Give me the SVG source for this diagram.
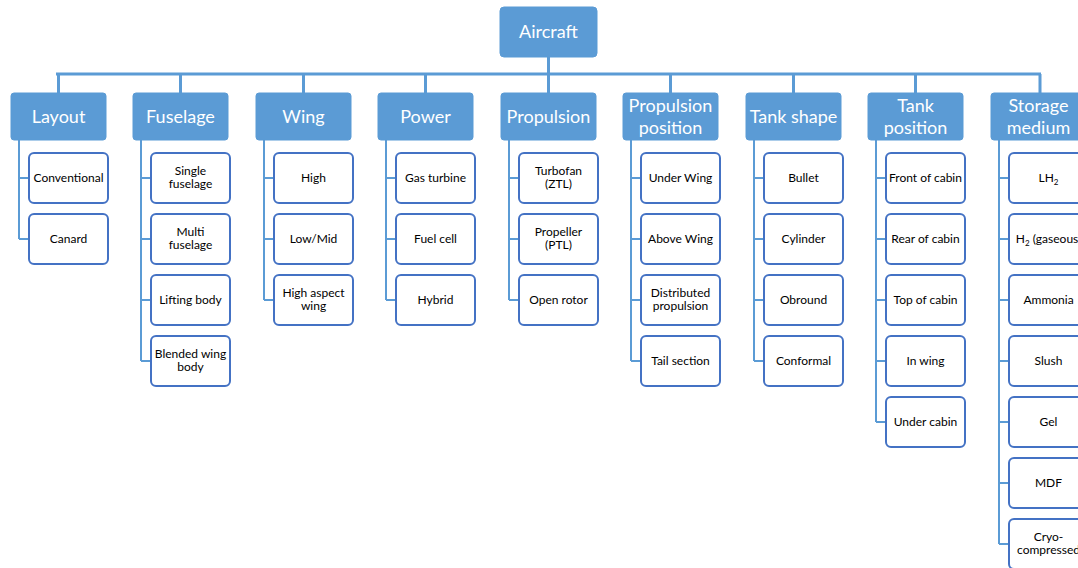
<svg xmlns="http://www.w3.org/2000/svg" width="1078" height="568" viewBox="0 0 1078 568">
<style>
.cat{fill:#5b9bd5;stroke:#5b9bd5;stroke-width:1}
.ct{fill:#fff;font-family:Lato,"Open Sans",sans-serif;font-size:18px;text-anchor:middle}
.ch{fill:#fff;stroke:#4472c4;stroke-width:2}
.t{fill:#000;font-family:Lato,"Open Sans",sans-serif;font-size:12px;text-anchor:middle}
.c{stroke:#5b9bd5;stroke-width:2;fill:none}
.bus{stroke:#5b9bd5;stroke-width:3;fill:none}
</style>
<rect width="1078" height="568" fill="#fff"/>
<g id="connectors">
<path class="bus" d="M548.5 57V74M56 74H1041M58.5 74V93M180.5 74V93M303.5 74V93M425.5 74V93M548.5 74V93M670.5 74V93M793.5 74V93M915.5 74V93M1040 74V93"/>
<path class="c" d="M19 140V239M19 178H29M19 239H29"/>
<path class="c" d="M141 140V361M141 178H151M141 239H151M141 300H151M141 361H151"/>
<path class="c" d="M264 140V300M264 178H274M264 239H274M264 300H274"/>
<path class="c" d="M386 140V300M386 178H396M386 239H396M386 300H396"/>
<path class="c" d="M509 140V300M509 178H519M509 239H519M509 300H519"/>
<path class="c" d="M631 140V361M631 178H641M631 239H641M631 300H641M631 361H641"/>
<path class="c" d="M754 140V361M754 178H764M754 239H764M754 300H764M754 361H764"/>
<path class="c" d="M876 140V422M876 178H886M876 239H886M876 300H886M876 361H886M876 422H886"/>
<path class="c" d="M999 140V544M999 178H1009M999 239H1009M999 300H1009M999 361H1009M999 422H1009M999 483H1009M999 544H1009"/>
</g>
<g id="aircraft"><rect class="cat" x="500" y="7" width="97" height="50" rx="4"/><text class="ct" x="548.5" y="38">Aircraft</text></g>

<g id="layout"><rect class="cat" x="11" y="93" width="95" height="47" rx="3"/><text class="ct" x="58.5" y="123">Layout</text></g>
<g id="fuselage"><rect class="cat" x="133" y="93" width="95" height="47" rx="3"/><text class="ct" x="180.5" y="123">Fuselage</text></g>
<g id="wing"><rect class="cat" x="256" y="93" width="95" height="47" rx="3"/><text class="ct" x="303.5" y="123">Wing</text></g>
<g id="power"><rect class="cat" x="378" y="93" width="95" height="47" rx="3"/><text class="ct" x="425.5" y="123">Power</text></g>
<g id="propulsion"><rect class="cat" x="501" y="93" width="95" height="47" rx="3"/><text class="ct" x="548.5" y="123">Propulsion</text></g>
<g id="propulsion-position"><rect class="cat" x="623" y="93" width="95" height="47" rx="3"/><text class="ct" x="670.5" y="112">Propulsion</text><text class="ct" x="670.5" y="134">position</text></g>
<g id="tank-shape"><rect class="cat" x="746" y="93" width="95" height="47" rx="3"/><text class="ct" x="793.5" y="123">Tank shape</text></g>
<g id="tank-position"><rect class="cat" x="868" y="93" width="95" height="47" rx="3"/><text class="ct" x="915.5" y="112">Tank</text><text class="ct" x="915.5" y="134">position</text></g>
<g id="storage-medium"><rect class="cat" x="991" y="93" width="95" height="47" rx="3"/><text class="ct" x="1038.5" y="112">Storage</text><text class="ct" x="1038.5" y="134">medium</text></g>

<g id="conventional"><rect class="ch" x="29" y="153" width="79" height="50" rx="5"/><text class="t" x="68.5" y="182">Conventional</text></g>
<g id="canard"><rect class="ch" x="29" y="214" width="79" height="50" rx="5"/><text class="t" x="68.5" y="243">Canard</text></g>

<g id="single-fuselage"><rect class="ch" x="151" y="153" width="79" height="50" rx="5"/><text class="t" x="190.5" y="175">Single</text><text class="t" x="190.5" y="188">fuselage</text></g>
<g id="multi-fuselage"><rect class="ch" x="151" y="214" width="79" height="50" rx="5"/><text class="t" x="190.5" y="236">Multi</text><text class="t" x="190.5" y="249">fuselage</text></g>
<g id="lifting-body"><rect class="ch" x="151" y="275" width="79" height="50" rx="5"/><text class="t" x="190.5" y="304">Lifting body</text></g>
<g id="blended-wing-body"><rect class="ch" x="151" y="336" width="79" height="50" rx="5"/><text class="t" x="190.5" y="358">Blended wing</text><text class="t" x="190.5" y="371">body</text></g>

<g id="high"><rect class="ch" x="274" y="153" width="79" height="50" rx="5"/><text class="t" x="313.5" y="182">High</text></g>
<g id="low-mid"><rect class="ch" x="274" y="214" width="79" height="50" rx="5"/><text class="t" x="313.5" y="243">Low/Mid</text></g>
<g id="high-aspect-wing"><rect class="ch" x="274" y="275" width="79" height="50" rx="5"/><text class="t" x="313.5" y="297">High aspect</text><text class="t" x="313.5" y="310">wing</text></g>

<g id="gas-turbine"><rect class="ch" x="396" y="153" width="79" height="50" rx="5"/><text class="t" x="435.5" y="182">Gas turbine</text></g>
<g id="fuel-cell"><rect class="ch" x="396" y="214" width="79" height="50" rx="5"/><text class="t" x="435.5" y="243">Fuel cell</text></g>
<g id="hybrid"><rect class="ch" x="396" y="275" width="79" height="50" rx="5"/><text class="t" x="435.5" y="304">Hybrid</text></g>

<g id="turbofan"><rect class="ch" x="519" y="153" width="79" height="50" rx="5"/><text class="t" x="558.5" y="175">Turbofan</text><text class="t" x="558.5" y="188">(ZTL)</text></g>
<g id="propeller"><rect class="ch" x="519" y="214" width="79" height="50" rx="5"/><text class="t" x="558.5" y="236">Propeller</text><text class="t" x="558.5" y="249">(PTL)</text></g>
<g id="open-rotor"><rect class="ch" x="519" y="275" width="79" height="50" rx="5"/><text class="t" x="558.5" y="304">Open rotor</text></g>

<g id="under-wing"><rect class="ch" x="641" y="153" width="79" height="50" rx="5"/><text class="t" x="680.5" y="182">Under Wing</text></g>
<g id="above-wing"><rect class="ch" x="641" y="214" width="79" height="50" rx="5"/><text class="t" x="680.5" y="243">Above Wing</text></g>
<g id="distributed-propulsion"><rect class="ch" x="641" y="275" width="79" height="50" rx="5"/><text class="t" x="680.5" y="297">Distributed</text><text class="t" x="680.5" y="310">propulsion</text></g>
<g id="tail-section"><rect class="ch" x="641" y="336" width="79" height="50" rx="5"/><text class="t" x="680.5" y="365">Tail section</text></g>

<g id="bullet"><rect class="ch" x="764" y="153" width="79" height="50" rx="5"/><text class="t" x="803.5" y="182">Bullet</text></g>
<g id="cylinder"><rect class="ch" x="764" y="214" width="79" height="50" rx="5"/><text class="t" x="803.5" y="243">Cylinder</text></g>
<g id="obround"><rect class="ch" x="764" y="275" width="79" height="50" rx="5"/><text class="t" x="803.5" y="304">Obround</text></g>
<g id="conformal"><rect class="ch" x="764" y="336" width="79" height="50" rx="5"/><text class="t" x="803.5" y="365">Conformal</text></g>

<g id="front-of-cabin"><rect class="ch" x="886" y="153" width="79" height="50" rx="5"/><text class="t" x="925.5" y="182">Front of cabin</text></g>
<g id="rear-of-cabin"><rect class="ch" x="886" y="214" width="79" height="50" rx="5"/><text class="t" x="925.5" y="243">Rear of cabin</text></g>
<g id="top-of-cabin"><rect class="ch" x="886" y="275" width="79" height="50" rx="5"/><text class="t" x="925.5" y="304">Top of cabin</text></g>
<g id="in-wing"><rect class="ch" x="886" y="336" width="79" height="50" rx="5"/><text class="t" x="925.5" y="365">In wing</text></g>
<g id="under-cabin"><rect class="ch" x="886" y="397" width="79" height="50" rx="5"/><text class="t" x="925.5" y="426">Under cabin</text></g>

<g id="lh2"><rect class="ch" x="1009" y="153" width="79" height="50" rx="5"/><text class="t" x="1048.5" y="182">LH<tspan font-size="8" dy="3">2</tspan></text></g>
<g id="h2-gaseous"><rect class="ch" x="1009" y="214" width="79" height="50" rx="5"/><text class="t" x="1048.5" y="243">H<tspan font-size="8" dy="3">2</tspan><tspan dy="-3"> (gaseous)</tspan></text></g>
<g id="ammonia"><rect class="ch" x="1009" y="275" width="79" height="50" rx="5"/><text class="t" x="1048.5" y="304">Ammonia</text></g>
<g id="slush"><rect class="ch" x="1009" y="336" width="79" height="50" rx="5"/><text class="t" x="1048.5" y="365">Slush</text></g>
<g id="gel"><rect class="ch" x="1009" y="397" width="79" height="50" rx="5"/><text class="t" x="1048.5" y="426">Gel</text></g>
<g id="mdf"><rect class="ch" x="1009" y="458" width="79" height="50" rx="5"/><text class="t" x="1048.5" y="487">MDF</text></g>
<g id="cryo-compressed"><rect class="ch" x="1009" y="519" width="79" height="50" rx="5"/><text class="t" x="1048.5" y="541">Cryo-</text><text class="t" x="1048.5" y="554">compressed</text></g>
</svg>
